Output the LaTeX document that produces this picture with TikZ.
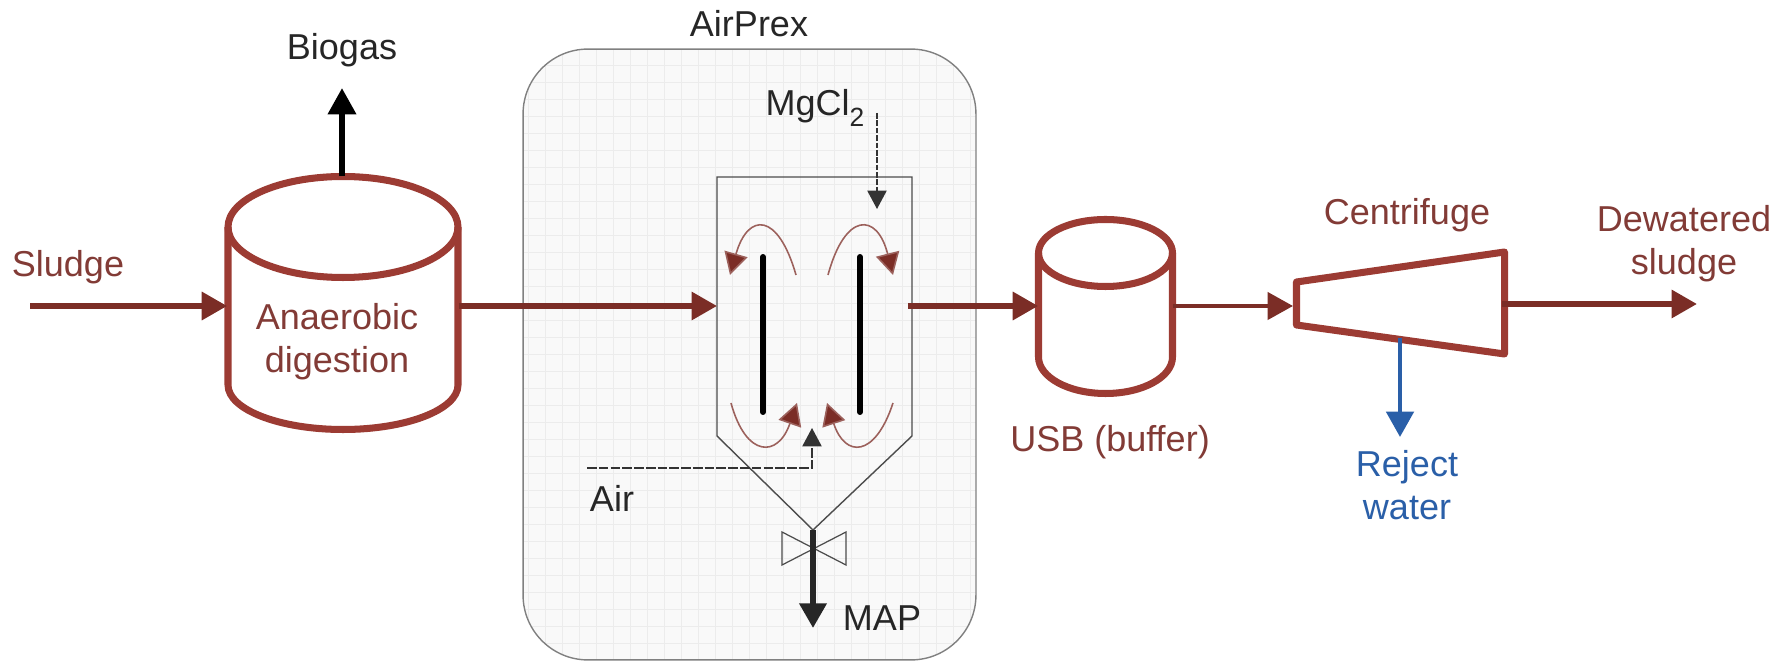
\documentclass[tikz,border=0pt]{standalone}
\usepackage{fontspec}
\setmainfont{Liberation Sans}
\usetikzlibrary{positioning, arrows.meta}
\definecolor{SludgeRed}{HTML}{9C3B33}
\definecolor{FlowRed}{HTML}{7B2D26}
\definecolor{LabelRed}{HTML}{823B36}
\definecolor{RejectBlue}{HTML}{2A5FA8}
\definecolor{BoxGrey}{HTML}{F9F9F9}
\definecolor{GridGrey}{HTML}{ECECEC}
\tikzset{
  tankline/.style={draw=SludgeRed, line width=4pt, line join=round},
  flowlabel/.style={text=LabelRed, font=\fontsize{20.5}{24.5}\selectfont, align=center},
  blacklabel/.style={text=black!85, font=\fontsize{20.5}{24.5}\selectfont, align=center},
  bluelabel/.style={text=RejectBlue, font=\fontsize{20.5}{24.5}\selectfont, align=center},
  flow/.style={draw=FlowRed, line width=3.3pt, -{Triangle[length=14.5pt,width=15.5pt]}},
  swirl/.style={draw=FlowRed!75, line width=0.9pt, -{Triangle[length=12.5pt,width=13.5pt,fill=FlowRed]}},
  dosing/.style={draw=black!80, line width=0.8pt, -{Triangle[length=10.5pt,width=11pt]}},
  baffle/.style={line width=3.4pt, line cap=round},
  vessel/.style={draw=black!70, line width=0.8pt}
}
\begin{document}
\begin{tikzpicture}[x=0.02cm, y=-0.02cm]
                \useasboundingbox (0,0) rectangle (1789,661);
                % Nodes
                \node[draw=black!50, line width=0.8pt, rounded corners=1.3cm, fill=BoxGrey, minimum width=9.06cm, minimum height=12.22cm,
                  path picture={\draw[GridGrey, line width=0.6pt] (path picture bounding box.south west) grid[step=0.34cm] (path picture bounding box.north east);}] (airprexbox) at (749.5,354.5) {};
                \node[inner sep=0pt, minimum width=4.62cm, minimum height=5.06cm] (digester) at (343,303) {};
                \node[inner sep=0pt, minimum width=2.68cm, minimum height=3.48cm] (buffer) at (1105.5,306.5) {};

                \node[flowlabel] (sludgetxt) at (68,267) {Sludge};
                \node[blacklabel] (biogastxt) at (342,50) {Biogas};
                \node[flowlabel] (digestertxt) at (337,342) {Anaerobic\\digestion};
                \node[blacklabel] (airprextxt) at (749,24) {AirPrex};
                \node[blacklabel] (mgcltxt) at (815,108) {MgCl\raisebox{-0.3em}{\fontsize{15}{15}\selectfont 2}};
                \node[blacklabel] (airtxt) at (612,498) {Air};
                \node[blacklabel] (maptxt) at (882,618) {MAP};
                \node[flowlabel] (buffertxt) at (1110,442) {USB (buffer)};
                \node[flowlabel] (centrifugetxt) at (1407,215) {Centrifuge};
                \node[flowlabel] (dewateredtxt) at (1684,244) {Dewatered\\sludge};
                \node[bluelabel] (rejecttxt) at (1407,485) {Reject\\water};

                % Tanks
                \draw[tankline] (343,227) ellipse[x radius=115, y radius=50.5];
                \draw[tankline] (228,227) -- (228,385) arc[start angle=180, end angle=0, x radius=115, y radius=44.5] -- (458,227);
                \draw[tankline] (1105.5,253) ellipse[x radius=67, y radius=33.5];
                \draw[tankline] (1038.5,253) -- (1038.5,357) arc[start angle=180, end angle=0, x radius=67, y radius=36.5] -- (1172.5,253);

                % Reactor
                \coordinate (rtl) at (717,177);
                \coordinate (rtr) at (912,177);
                \coordinate (rmr) at (912,436);
                \coordinate (rml) at (717,436);
                \coordinate (rbot) at (813,530);
                \draw[vessel] (rbot) -- (rml) -- (rtl) -- (rtr) -- (rmr) -- cycle;
                \draw[baffle] (763,257) -- (763,412);
                \draw[baffle] (860,257) -- (860,412);

                % Valve
                \draw[vessel, line width=0.7pt] (782,532) -- (846,565) -- (846,532) -- (782,565) -- cycle;

                % Centrifuge
                \coordinate (ctl) at (1296.5,282);
                \coordinate (ctr) at (1504.5,252);
                \coordinate (cbr) at (1504.5,354);
                \coordinate (cbl) at (1296.5,325);
                \draw[tankline] (ctl) -- (ctr) -- (cbr) -- (cbl) -- cycle;

                % Edges
                \coordinate (sludgein) at (30,306);
                \coordinate (reactorin) at (717,306);
                \coordinate (reactorout) at (908,306);
                \coordinate (centrifugein) at (1293,306);
                \coordinate (centrifugeout) at (1502,304);
                \coordinate (sludgeout) at (1697,304);
                \coordinate (biogasout) at (342,88);
                \coordinate (rejectin) at (1400,338);
                \coordinate (rejectout) at (1400,437);
                \coordinate (mgclin) at (877,113);
                \coordinate (mgclout) at (877,209);
                \coordinate (airin) at (587,468);
                \coordinate (airout) at (812,428);
                \coordinate (maptip) at (813,628);
                \draw[flow] (sludgein) -- (sludgein -| digester.west);
                \draw[flow] (reactorin -| digester.east) -- (reactorin);
                \draw[flow] (reactorout) -- (reactorout -| buffer.west);
                \draw[flow, line width=2.2pt] (centrifugein -| buffer.east) -- (centrifugein);
                \draw[flow] (centrifugeout) -- (sludgeout);
                \draw[line width=3.4pt, -{Triangle[length=15pt,width=15.5pt]}] (biogasout |- digester.north) -- (biogasout);
                \draw[draw=RejectBlue, fill=RejectBlue, line width=2.6pt, -{Triangle[length=14.5pt,width=15.5pt]}] (rejectin) -- (rejectout);
                \draw[dosing, dash pattern=on 3.2pt off 1pt] (mgclin) -- (mgclout);
                \draw[dosing, dash pattern=on 5.5pt off 1.2pt] (airin) -| (airout);
                \draw[line width=3.2pt, black!85, -{Triangle[length=14pt,width=15pt]}] (rbot) -- (maptip);

                % Swirls
                \draw[swirl] (796,275) .. controls (778,212) and (748,212) .. (730,275);
                \draw[swirl] (828,275) .. controls (845,212) and (877,212) .. (893,275);
                \draw[swirl] (731,403) .. controls (746,458) and (778,458) .. (797,403);
                \draw[swirl] (893,403) .. controls (875,458) and (845,458) .. (827,403);
            \end{tikzpicture}
\end{document}
